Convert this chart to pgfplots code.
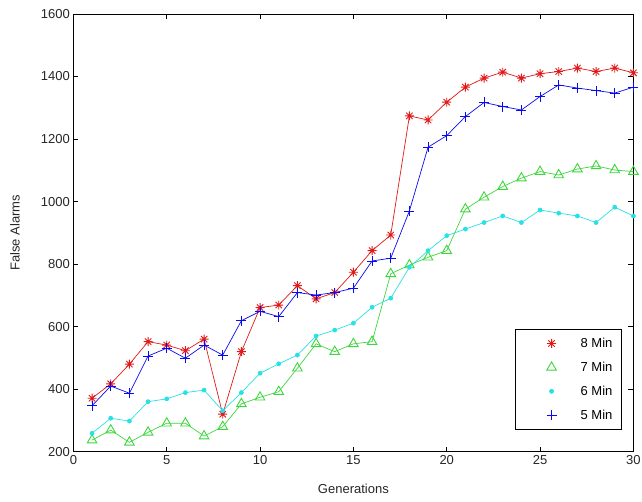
\documentclass[border=0pt]{standalone}
\usepackage{fontspec}
\setmainfont{Liberation Sans}
\usepackage{pgfplots}
\pgfplotsset{compat=1.18}
\definecolor{cRed}{RGB}{225,25,25}
\definecolor{cGreen}{RGB}{60,215,60}
\definecolor{cCyan}{RGB}{40,225,230}
\definecolor{cBlue}{RGB}{10,10,240}
\pgfdeclareplotmark{mstar}{%
 \pgfpathmoveto{\pgfqpoint{-\pgfplotmarksize}{0pt}}\pgfpathlineto{\pgfqpoint{\pgfplotmarksize}{0pt}}%
 \pgfpathmoveto{\pgfqpoint{0pt}{-\pgfplotmarksize}}\pgfpathlineto{\pgfqpoint{0pt}{\pgfplotmarksize}}%
 \pgfpathmoveto{\pgfqpoint{-.7071\pgfplotmarksize}{-.7071\pgfplotmarksize}}\pgfpathlineto{\pgfqpoint{.7071\pgfplotmarksize}{.7071\pgfplotmarksize}}%
 \pgfpathmoveto{\pgfqpoint{-.7071\pgfplotmarksize}{.7071\pgfplotmarksize}}\pgfpathlineto{\pgfqpoint{.7071\pgfplotmarksize}{-.7071\pgfplotmarksize}}%
 \pgfusepathqstroke}
\pgfdeclareplotmark{mplus}{%
 \pgfpathmoveto{\pgfqpoint{-\pgfplotmarksize}{0pt}}\pgfpathlineto{\pgfqpoint{\pgfplotmarksize}{0pt}}%
 \pgfpathmoveto{\pgfqpoint{0pt}{-\pgfplotmarksize}}\pgfpathlineto{\pgfqpoint{0pt}{\pgfplotmarksize}}%
 \pgfusepathqstroke}
\begin{document}
\begin{tikzpicture}
\begin{axis}[
  scale only axis,
  width=560pt, height=437.7pt,
  xmin=0, xmax=30, ymin=200, ymax=1600,
  xtick={0,5,...,30}, ytick={200,400,...,1600},
  tick align=inside,
  major tick length=5pt,
  axis line style={black, line width=0.6pt},
  every tick/.style={black, line width=0.6pt},
  /pgf/number format/assume math mode=true,
  /pgf/number format/1000 sep={},
  tick label style={font=\fontsize{13}{15}\selectfont, text=black!85},
  xlabel={Generations},
  ylabel={False Alarms},
  every axis x label/.style={at={(rel axis cs:0.5,0)}, yshift=-37.3pt, anchor=center, font=\fontsize{13}{15}\selectfont, text=black!85},
  every axis y label/.style={at={(rel axis cs:0,0.5)}, xshift=-58.4pt, rotate=90, anchor=center, font=\fontsize{13}{15}\selectfont, text=black!85},
  legend style={at={(1,0)}, anchor=south east, xshift=-11.7pt, yshift=21.7pt,
    font=\fontsize{13}{15}\selectfont, draw=black, line width=0.6pt,
    inner xsep=7pt, inner ysep=7pt, row sep=9pt, cells={anchor=west}},
  legend cell align=left,
  legend image code/.code={\draw[#1, line width=0.8pt] plot[only marks] coordinates {(29pt,0pt)}; \path (0pt,0pt) (55.7pt,0pt);},
]
\addplot[cRed, line width=0.7pt, mark=mstar, mark size=4.5pt, mark options={cRed, line width=0.9pt}] coordinates {
(1,371) (2,417) (3,480) (4,552) (5,541) (6,523) (7,560) (8,320) (9,520) (10,661)
(11,669) (12,731) (13,689) (14,709) (15,774) (16,843) (17,893) (18,1274) (19,1261) (20,1318)
(21,1366) (22,1395) (23,1414) (24,1395) (25,1409) (26,1416) (27,1427) (28,1416) (29,1427) (30,1412)};
\addlegendentry{8 Min}
\addplot[cGreen, line width=0.7pt, mark=triangle, mark size=5.5pt, mark options={cGreen, line width=0.9pt}] coordinates {
(1,237) (2,269) (3,230) (4,262) (5,291) (6,291) (7,250) (8,280) (9,353) (10,374)
(11,392) (12,467) (13,545) (14,520) (15,545) (16,552) (17,769) (18,797) (19,822) (20,843)
(21,976) (22,1014) (23,1048) (24,1075) (25,1096) (26,1085) (27,1104) (28,1114) (29,1101) (30,1096)};
\addlegendentry{7 Min}
\addplot[cCyan, line width=0.7pt, mark=*, mark size=2pt, mark options={cCyan}] coordinates {
(1,259) (2,307) (3,298) (4,360) (5,369) (6,389) (7,397) (8,331) (9,389) (10,451)
(11,481) (12,509) (13,570) (14,589) (15,611) (16,662) (17,691) (18,790) (19,843) (20,891)
(21,912) (22,933) (23,954) (24,933) (25,973) (26,963) (27,954) (28,933) (29,982) (30,954)};
\addlegendentry{6 Min}
\addplot[cBlue, line width=0.7pt, mark=mplus, mark size=5pt, mark options={cBlue, line width=0.9pt}] coordinates {
(1,347) (2,410) (3,387) (4,506) (5,531) (6,499) (7,541) (8,509) (9,619) (10,649)
(11,632) (12,709) (13,701) (14,709) (15,723) (16,810) (17,819) (18,970) (19,1174) (20,1211)
(21,1272) (22,1317) (23,1304) (24,1293) (25,1336) (26,1373) (27,1363) (28,1355) (29,1347) (30,1366)};
\addlegendentry{5 Min}
\end{axis}
\pgfresetboundingbox
\path (current axis.south west) ++(-73.4pt,-50.3pt) coordinate (bbA);
\path (current axis.north east) ++(8.6pt,14pt) coordinate (bbB);
\useasboundingbox (bbA) rectangle (bbB);
\end{tikzpicture}
\end{document}
